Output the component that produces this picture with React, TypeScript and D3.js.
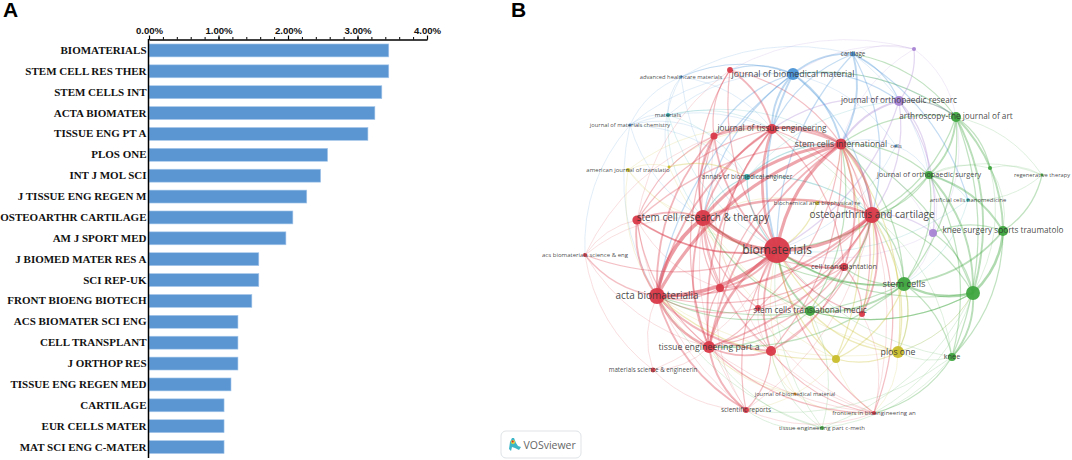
import React, { useRef, useEffect } from 'react';
import * as d3 from 'd3';

// panel A: share of citations by journal
const journals = [
  'BIOMATERIALS', 'STEM CELL RES THER', 'STEM CELLS INT', 'ACTA BIOMATER', 'TISSUE ENG PT A',
  'PLOS ONE', 'INT J MOL SCI', 'J TISSUE ENG REGEN M', 'OSTEOARTHR CARTILAGE', 'AM J SPORT MED',
  'J BIOMED MATER RES A', 'SCI REP-UK', 'FRONT BIOENG BIOTECH', 'ACS BIOMATER SCI ENG', 'CELL TRANSPLANT',
  'J ORTHOP RES', 'TISSUE ENG REGEN MED', 'CARTILAGE', 'EUR CELLS MATER', 'MAT SCI ENG C-MATER',
];
const shares = [3.45, 3.45, 3.35, 3.25, 3.15, 2.57, 2.47, 2.27, 2.07, 1.97, 1.58, 1.58, 1.48, 1.28, 1.28, 1.28, 1.18, 1.08, 1.08, 1.08];
const majorTicks = [0, 1, 2, 3, 4];
const minorTicks = d3.range(0, 21).map((d) => d / 5);

// panel B: VOSviewer map, [id, label, mapX, mapY, weight]
type MapNode = [string, string, number, number, number];
const redNodes: MapNode[] = [
  ['bio', 'biomaterials', 277, 250, 400],
  ['scrt', 'stem cell research & therapy', 203, 218, 150],
  ['r637', '', 137, 220, 50],
  ['sci', 'stem cells international', 341, 144, 72],
  ['oa', 'osteoarthritis and cartilage', 372, 215, 150],
  ['acta', 'acta biomaterialia', 157, 296, 150],
  ['tepa', 'tissue engineering part a', 209, 347, 85],
  ['jte', 'journal of tissue engineering', 272, 129, 60],
  ['r714', '', 214, 136, 30],
  ['r730', '', 230, 70, 20],
  ['r720', '', 220, 288, 38],
  ['r758', '', 258, 308, 20],
  ['r771', '', 271, 351, 60],
  ['msei', 'materials science & engineerin', 153, 370, 14],
  ['sr', 'scientific reports', 246, 410, 21],
  ['acs', 'acs biomaterials science & eng', 85, 255, 10],
  ['ct', 'cell transplantation', 344, 267, 38],
  ['r862', '', 362, 314, 21],
  ['fb', 'frontiers in bioengineering an', 374, 413, 10],
];
const greenNodes: MapNode[] = [
  ['sctm', 'stem cells translational medic', 310, 311, 60],
  ['sc', 'stem cells', 404, 284, 115],
  ['g973', '', 473, 293, 115],
  ['knee', 'knee', 452, 357, 38],
  ['tecm', 'tissue engineering part c-meth', 322, 428, 10],
  ['kssta', 'knee surgery sports traumatolo', 503, 231, 60],
  ['jos', 'journal of orthopaedic surgery', 429, 175, 38],
  ['art', 'arthroscopy-the journal of art', 456, 117, 60],
  ['g990', '', 490, 168, 10],
  ['regen', 'regenerative therapy', 542, 175, 5],
];
const blueNodes: MapNode[] = [
  ['jbmr', 'journal of biomedical material', 293, 74, 85],
  ['cart', 'cartilage', 353, 54, 14],
  ['ahm', 'advanced healthcare materials', 181, 77, 5],
  ['jmc', 'journal of materials chemistry', 130, 125, 5],
  ['cells', 'cells', 396, 146, 5],
];
const tealNodes: MapNode[] = [
  ['mat', 'materials', 168, 115, 10],
  ['abe', 'annals of biomedical engineer', 247, 177, 21],
  ['acn', 'artificial cells nanomedicine', 468, 200, 8],
];
const purpleNodes: MapNode[] = [
  ['p914', '', 414, 49, 10],
  ['jor', 'journal of orthopaedic researc', 399, 101, 60],
  ['p933', '', 433, 233, 38],
];
const yellowNodes: MapNode[] = [
  ['ajt', 'american journal of translatio', 128, 170, 10],
  ['y669', '', 169, 167, 5],
  ['bbrc', 'biochemical and biophysical re', 317, 203, 10],
  ['plos', 'plos one', 398, 352, 85],
  ['y836', '', 336, 359, 38],
];
const orangeNodes: MapNode[] = [
  ['jbm2', 'journal of biomedical material', 295, 394, 5],
];

// links as source-target-strength, grouped by the cluster that colours them
const redLinks = `bio-scrt-6 bio-acta-6 bio-oa-5 bio-sci-5 bio-tepa-4 bio-jte-4 bio-r637-3 bio-r714-3 bio-r730-2 bio-r720-3
bio-r758-2 bio-r771-3 bio-ct-3 bio-sr-2 bio-acs-2 bio-msei-1 bio-fb-2 bio-r862-2 scrt-acta-6 scrt-sci-5 scrt-oa-4 scrt-r637-3
scrt-tepa-3 scrt-jte-3 scrt-r714-3 scrt-r730-2 scrt-r720-2 scrt-ct-2 scrt-r771-2 scrt-acs-1 scrt-sr-1 scrt-r758-2 acta-sci-5 acta-oa-3
acta-tepa-4 acta-jte-3 acta-r714-3 acta-r637-3 acta-r720-2 acta-r771-3 acta-sr-3 acta-msei-1 acta-acs-2 acta-r758-2 acta-ct-2 acta-fb-1
sci-oa-4 sci-jte-4 sci-r714-3 sci-r730-2 sci-tepa-3 sci-ct-3 sci-r771-2 sci-r720-2 sci-r758-2 sci-r637-2 sci-r862-2 oa-jte-2
oa-tepa-3 oa-ct-2 oa-r771-2 oa-r720-2 oa-r862-3 oa-r758-2 oa-sr-1 tepa-jte-3 tepa-r714-2 tepa-r771-3 tepa-r720-2 tepa-sr-3
tepa-msei-1 tepa-ct-2 tepa-r758-2 tepa-r637-2 tepa-acs-1 jte-r714-3 jte-r730-3 jte-r637-2 jte-ct-2 jte-r720-2 r714-r730-2 r714-r637-2
r714-r720-2 r714-r771-1 r730-r637-1 r637-acs-1 r637-r720-1 r637-sr-1 r771-sr-2 r771-ct-2 r771-fb-2 r771-r758-1 sr-fb-1 sr-msei-1
sr-r720-1 ct-r862-2 ct-r758-1 r862-fb-1 fb-r758-1 acs-msei-1 acs-r714-1 fb-tepa-2 sci-fb-1 oa-fb-2 fb-r720-1 bio-r637-2`;
const greenLinks = `g973-sc-4 g973-kssta-4 g973-art-3 g973-jos-3 g973-knee-3 g973-sctm-2 g973-g990-1 g973-tecm-1 g973-fb-1 g973-p933-2
g973-plos-1 g973-oa-2 g973-sci-2 g973-bio-2 kssta-art-3 kssta-sc-3 kssta-jos-3 kssta-knee-2 kssta-regen-2 kssta-g990-1 kssta-p933-2 art-jos-3
art-sc-2 art-knee-2 art-g990-2 art-regen-1 art-sci-2 art-jbmr-2 art-cart-2 art-jor-2 art-oa-2 jos-knee-2 jos-sc-2 jos-g990-1
jos-sci-2 jos-oa-2 jos-regen-1 jos-bio-2 sc-sctm-3 sc-bio-3 sc-oa-2 sc-sci-2 sc-ct-2 sc-knee-2 sc-plos-1 sc-acta-2
sc-scrt-2 sc-tepa-2 sc-jte-1 sctm-bio-3 sctm-scrt-2 sctm-acta-2 sctm-tepa-2 sctm-sci-2 sctm-tecm-1 sctm-oa-2 sctm-g973-2 knee-fb-2
knee-tecm-1 knee-bio-1 knee-oa-1 knee-sr-1 knee-plos-1 tecm-r771-1 tecm-tepa-1 tecm-acta-1 tecm-bio-1 tecm-sr-1 regen-g990-1 regen-acn-1`;
const blueLinks = `jbmr-cart-3 jbmr-jmc-1 jbmr-ahm-2 jbmr-bio-3 jbmr-sci-3 jbmr-jte-3 jbmr-r730-2 jbmr-r714-2 jbmr-scrt-2 jbmr-acta-2
jbmr-oa-2 jbmr-jor-2 jbmr-art-1 jbmr-mat-1 cart-sci-3 cart-jor-2 cart-jte-2 cart-oa-2 cart-bio-2 cart-acn-2 cart-jos-1 cart-ahm-1
ahm-jmc-1 ahm-mat-1 ahm-jte-1 ahm-bio-1 ahm-y669-1 jmc-mat-1 jmc-r714-1 jmc-acs-1 jmc-acta-1 jmc-scrt-1 jmc-abe-1 jmc-jte-1
cells-sci-1 cells-jos-1 cells-bio-1 cells-jbmr-1`;
const tealLinks = `mat-jte-1 mat-bio-1 mat-sci-1 mat-scrt-1 mat-abe-1 abe-bio-2 abe-sci-2 abe-oa-2 abe-jor-1 abe-scrt-2 acn-jos-1 acn-bio-1 acn-sc-1`;
const purpleLinks = `jor-p914-2 jor-art-2 jor-sci-3 jor-oa-2 jor-jos-2 jor-p933-2 jor-bio-2 jor-jte-2 p914-art-1 p914-cart-1 p914-jbmr-1 p914-sci-1
p914-r730-1 p933-oa-2 p933-sc-1 p933-art-1 p933-jos-1 p933-sci-1 p933-bio-1`;
const yellowLinks = `ajt-y669-1 ajt-scrt-1 ajt-acta-1 ajt-jte-1 ajt-bio-1 y669-jte-1 y669-abe-2 y669-sctm-1 plos-y836-2 plos-bio-2 plos-sc-2 plos-oa-2
plos-sci-2 plos-scrt-1 plos-acta-1 plos-sctm-2 plos-fb-1 plos-g973-1 y836-bio-2 y836-scrt-1 y836-acta-2 y836-sci-2 y836-oa-2 y836-sctm-2
y836-sc-2 y836-fb-1 y836-sr-1 bbrc-bio-2 bbrc-oa-1 bbrc-sci-1 bbrc-scrt-1 jbm2-bio-1 jbm2-tepa-1 jbm2-r771-1 jbm2-acta-1 jbm2-fb-1`;

const clusters = [
  { color: '#d93a4a', nodes: redNodes, links: redLinks },
  { color: '#3fa53f', nodes: greenNodes, links: greenLinks },
  { color: '#4b94d6', nodes: blueNodes, links: blueLinks },
  { color: '#2ba6a8', nodes: tealNodes, links: tealLinks },
  { color: '#a884d4', nodes: purpleNodes, links: purpleLinks },
  { color: '#c9bd2c', nodes: yellowNodes, links: yellowLinks },
  { color: '#e08a20', nodes: orangeNodes, links: '' },
];

export default function App() {
  const svgRef = useRef<SVGSVGElement | null>(null);

  useEffect(() => {
    const svg = d3.select(svgRef.current);
    svg.selectAll('*').remove();

    // ---- panel A ----
    const x = d3.scaleLinear().domain([0, 4]).range([149, 427]);
    const y = d3.scaleBand().domain(journals).range([40, 457.5]).paddingInner(0.38).paddingOuter(0.19);

    svg.append('text').attr('x', 3).attr('y', 17).attr('font-family', 'Liberation Sans').attr('font-weight', 700).attr('font-size', 21).text('A');
    svg.append('text').attr('x', 511).attr('y', 17).attr('font-family', 'Liberation Sans').attr('font-weight', 700).attr('font-size', 21).text('B');

    svg.append('g').selectAll('rect').data(shares).join('rect')
      .attr('x', x(0))
      .attr('y', (_, i) => y(journals[i]) as number)
      .attr('width', (d) => x(d) - x(0))
      .attr('height', y.bandwidth())
      .attr('fill', '#5b96d3')
      .attr('stroke', '#a9c9ea')
      .attr('stroke-width', 0.6);

    const minor = svg.append('g').attr('transform', 'translate(0,39.5)')
      .call(d3.axisTop(x).tickValues(minorTicks).tickSize(2.5).tickFormat(() => ''));
    minor.select('.domain').remove();
    minor.selectAll('line').attr('stroke-width', 1);

    const top = svg.append('g').attr('transform', 'translate(0,39.5)')
      .call(d3.axisTop(x).tickValues(majorTicks).tickSizeInner(4).tickSizeOuter(0).tickPadding(2).tickFormat((d) => `${(d as number).toFixed(2)}%`));
    top.select('.domain').attr('stroke-width', 1.5);
    top.selectAll('line').attr('stroke-width', 1.2);
    top.selectAll('text').attr('font-family', 'Liberation Sans').attr('font-weight', 700).attr('font-size', 9.6).attr('fill', '#111');

    const left = svg.append('g').attr('transform', 'translate(148.5,0)')
      .call(d3.axisLeft(y).tickSize(0).tickPadding(2));
    left.select('.domain').attr('stroke-width', 1.5).attr('d', 'M0,39V458');
    left.selectAll('text').attr('font-family', 'Liberation Serif').attr('font-weight', 700).attr('font-size', 11).attr('fill', '#111');

    // ---- panel B ----
    const mapX = d3.scaleLinear().domain([0, 572]).range([500, 1072]);
    const mapY = d3.scaleLinear().domain([0, 460]).range([0, 460]);
    const radius = d3.scaleSqrt().domain([0, 400]).range([0, 13]);
    const fontSize = d3.scaleLinear().domain([1.5, 3, 5, 8, 13]).range([5.8, 6.5, 8.2, 10, 12]);
    const linkWidth = d3.scaleLinear().domain([1, 6]).range([0.6, 3.8]);
    const linkAlpha = d3.scaleLinear().domain([1, 6]).range([0.28, 0.5]);

    const allNodes = clusters.flatMap((c) => c.nodes.map((n) => ({ id: n[0], label: n[1], x: mapX(n[2]), y: mapY(n[3]), r: radius(n[4]), color: c.color })));
    const byId = new Map(allNodes.map((n) => [n.id, n]));
    const centerX = mapX(285);
    const centerY = mapY(240);

    const allLinks = clusters.flatMap((c) => c.links.split(/\s+/).filter(Boolean).map((s) => {
      const [a, b, w] = s.split('-');
      return { a: byId.get(a)!, b: byId.get(b)!, w: +w, color: c.color };
    })).sort((p, q) => p.w - q.w);

    // curves bulge away from the middle of the map, as VOSviewer draws them
    const curve = (l: { a: { x: number; y: number }; b: { x: number; y: number } }) => {
      const mx = (l.a.x + l.b.x) / 2;
      const my = (l.a.y + l.b.y) / 2;
      let nx = -(l.b.y - l.a.y);
      let ny = l.b.x - l.a.x;
      if (nx * (mx - centerX) + ny * (my - centerY) < 0) { nx = -nx; ny = -ny; }
      const p = d3.path();
      p.moveTo(l.a.x, l.a.y);
      p.quadraticCurveTo(mx + nx * 0.2, my + ny * 0.2, l.b.x, l.b.y);
      return p.toString();
    };

    const defs = svg.append('defs');
    defs.append('filter').attr('id', 'soft').append('feGaussianBlur').attr('stdDeviation', 0.35);

    svg.append('g').attr('fill', 'none').attr('filter', 'url(#soft)')
      .selectAll('path').data(allLinks).join('path')
      .attr('d', curve)
      .attr('stroke', (d) => d.color)
      .attr('stroke-opacity', (d) => linkAlpha(d.w))
      .attr('stroke-width', (d) => linkWidth(d.w));

    svg.append('g').attr('filter', 'url(#soft)')
      .selectAll('circle').data(allNodes).join('circle')
      .attr('cx', (d) => d.x)
      .attr('cy', (d) => d.y)
      .attr('r', (d) => d.r)
      .attr('fill', (d) => d.color)
      .attr('fill-opacity', 0.95);

    svg.append('g').selectAll('text').data(allNodes.filter((n) => n.label)).join('text')
      .attr('x', (d) => d.x)
      .attr('y', (d) => d.y)
      .attr('dy', '0.3em')
      .attr('text-anchor', 'middle')
      .attr('font-family', 'Open Sans')
      .attr('font-size', (d) => fontSize(d.r))
      .attr('fill', '#333')
      .attr('fill-opacity', 0.9)
      .text((d) => d.label);

    // VOSviewer badge
    const badge = svg.append('g');
    badge.append('rect').attr('x', 501).attr('y', 431).attr('width', 80).attr('height', 27).attr('rx', 5)
      .attr('fill', '#fff').attr('stroke', '#dfe3e6').attr('stroke-width', 1);
    badge.append('path').attr('d', 'M509,449 L510,442 L512,438 L514,438 L516,443 L518,446 L521,447 L519,450 L515,448 L512,447 L511,451 Z').attr('fill', '#3db6c8');
    badge.append('circle').attr('cx', 513).attr('cy', 442).attr('r', 2).attr('fill', '#e6d23a');
    badge.append('circle').attr('cx', 512.7).attr('cy', 441.5).attr('r', 1).attr('fill', '#d8262c');
    badge.append('text').attr('x', 523.5).attr('y', 448.5).attr('font-family', 'Open Sans').attr('font-size', 10.5).attr('fill', '#666').text('VOSviewer');
  }, []);

  return <svg ref={svgRef} width={1072} height={460} style={{ position: 'absolute', left: 0, top: 0, background: '#fff' }} />;
}
